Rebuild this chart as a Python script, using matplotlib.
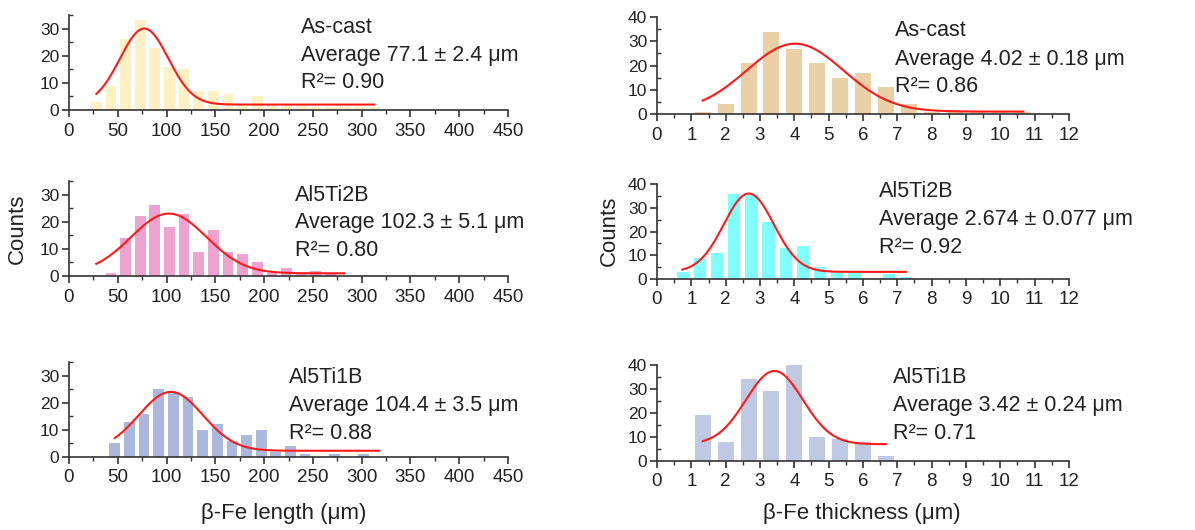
import numpy as np
import matplotlib.pyplot as plt
from matplotlib.ticker import MultipleLocator

plt.rcParams['font.family'] = ['Liberation Sans', 'DejaVu Sans']

# ---- length histograms (um) ----
len_cast_x = [28, 43, 58, 73, 88, 103, 118, 133, 148, 163, 178, 193, 208, 223, 238, 253, 268, 283, 298, 313]
len_cast_y = [3, 9, 26, 33, 23, 16, 15, 7, 7, 6, 2, 5, 2, 2, 2, 1, 1, 1, 1, 1]
len_ti2b_x = [43, 58, 73, 88, 103, 118, 133, 148, 163, 178, 193, 208, 223, 238, 253, 268]
len_ti2b_y = [1, 14, 22, 26, 18, 23, 9, 17, 9, 8, 5, 1, 3, 1, 2, 1]
len_ti1b_x = [47, 62, 77, 92, 107, 122, 137, 152, 167, 182, 197, 212, 227, 242, 257, 272, 287, 302]
len_ti1b_y = [5, 13, 16, 25, 24, 22, 10, 12, 6, 8, 10, 2, 4, 1, 0, 1, 0, 1]

# ---- thickness histograms (um) ----
thk_cast_x = [1.33, 2.0, 2.67, 3.33, 4.0, 4.67, 5.33, 6.0, 6.67, 7.33, 8.0, 8.67, 9.33, 10.0, 10.67]
thk_cast_y = [1, 4, 21, 34, 27, 21, 15, 17, 11, 4, 1, 1, 1, 1, 1]
thk_ti2b_x = [0.75, 1.25, 1.75, 2.25, 2.75, 3.25, 3.75, 4.25, 4.75, 5.25, 5.75, 6.25, 6.75, 7.25]
thk_ti2b_y = [3, 9, 11, 36, 36, 24, 13, 14, 5, 3, 3, 0, 2, 1]
thk_ti1b_x = [1.33, 2.0, 2.67, 3.33, 4.0, 4.67, 5.33, 6.0, 6.67]
thk_ti1b_y = [19, 8, 34, 29, 40, 10, 9, 8, 2]

# Gaussian fit parameters: (xc, amplitude, sigma, offset, x_start, x_end)
fit_len_cast = (77.1, 28, 24.8, 2.0, 28, 313)
fit_len_ti2b = (102.3, 22, 38.7, 1.0, 28, 282)
fit_len_ti1b = (104.4, 21.7, 32.8, 2.3, 47, 318)
fit_thk_cast = (4.02, 28, 1.41, 1.0, 1.33, 10.67)
fit_thk_ti2b = (2.674, 33, 0.73, 3.0, 0.74, 7.25)
fit_thk_ti1b = (3.42, 30.5, 0.83, 7.0, 1.33, 6.67)

labels_len = [["As-cast", "Average 77.1 ± 2.4 μm", "R²= 0.90"],
              ["Al5Ti2B", "Average 102.3 ± 5.1 μm", "R²= 0.80"],
              ["Al5Ti1B", "Average 104.4 ± 3.5 μm", "R²= 0.88"]]
labels_thk = [["As-cast", "Average 4.02 ± 0.18 μm", "R²= 0.86"],
              ["Al5Ti2B", "Average 2.674 ± 0.077 μm", "R²= 0.92"],
              ["Al5Ti1B", "Average 3.42 ± 0.24 μm", "R²= 0.71"]]

W, H = 1195, 530
fig = plt.figure(figsize=(W / 100, H / 100), dpi=100)


def px_axes(left, top, right, bottom):
    return fig.add_axes([left / W, 1 - bottom / H, (right - left) / W, (bottom - top) / H])


def style(ax, xmax, xmaj, ymax, ymaj):
    ax.set_xlim(0, xmax)
    ax.set_ylim(0, ymax)
    ax.xaxis.set_major_locator(MultipleLocator(xmaj))
    ax.xaxis.set_minor_locator(MultipleLocator(xmaj / 2))
    ax.yaxis.set_major_locator(MultipleLocator(ymaj))
    ax.yaxis.set_minor_locator(MultipleLocator(ymaj / 2))
    for s in ["top", "right"]:
        ax.spines[s].set_visible(False)
    for s in ["left", "bottom"]:
        ax.spines[s].set_linewidth(1.2)
        ax.spines[s].set_color("#333333")
    ax.tick_params(which="major", direction="out", length=5, width=1.2,
                   colors="#333333", labelcolor="#222222", pad=3)
    ax.tick_params(axis="x", which="major", labelsize=13.5, pad=4)
    ax.tick_params(axis="y", which="major", labelsize=12.5, pad=2)
    ax.tick_params(axis="x", which="minor", direction="out", length=3, width=1.0, colors="#333333")
    ax.tick_params(axis="y", which="minor", direction="in", length=3, width=1.0, colors="#333333")


def draw(ax, x, y, width, color, fit):
    ax.bar(x, y, width=width, color=color, zorder=2)
    xc, a, s, y0, x0, x1 = fit
    xs = np.linspace(x0, x1, 300)
    ax.plot(xs, y0 + a * np.exp(-(xs - xc) ** 2 / (2 * s ** 2)), color="#ff1a1a", lw=1.5, zorder=3)


# left column (length)
ax1 = px_axes(69, 15, 508, 110)
ax2 = px_axes(69, 181, 508, 276)
ax3 = px_axes(69, 362, 508, 457)
draw(ax1, len_cast_x, len_cast_y, 11, "#fff1c4", fit_len_cast)
draw(ax2, len_ti2b_x, len_ti2b_y, 11, "#eea2d0", fit_len_ti2b)
draw(ax3, len_ti1b_x, len_ti1b_y, 11, "#a9b8dc", fit_len_ti1b)
for ax in (ax1, ax2, ax3):
    style(ax, 450, 50, 35, 10)

# right column (thickness)
ax4 = px_axes(657, 17, 1069, 114)
ax5 = px_axes(657, 184, 1069, 279)
ax6 = px_axes(657, 365, 1069, 461)
draw(ax4, thk_cast_x, thk_cast_y, 0.47, "#e9d0a6", fit_thk_cast)
draw(ax5, thk_ti2b_x, thk_ti2b_y, 0.36, "#80ffff", fit_thk_ti2b)
draw(ax6, thk_ti1b_x, thk_ti1b_y, 0.47, "#bfc9e3", fit_thk_ti1b)
for ax in (ax4, ax5, ax6):
    style(ax, 12, 1, 40, 10)

# annotation blocks: (x px, baselines px)
text_pos = [(301, [33, 61, 88]), (295, [201, 228, 256]), (289, [383, 411, 439]),
            (895, [36, 65, 92]), (879, [197, 225, 253]), (893, [383, 411, 439])]
for (tx, bases), lines in zip(text_pos, labels_len + labels_thk):
    for b, line in zip(bases, lines):
        fig.text(tx / W, 1 - b / H, line, fontsize=15.5, color="#222222", va="baseline", ha="left")

fig.text(17 / W, 1 - 229 / H, "Counts", fontsize=16, rotation=90, va="center", ha="center", color="#222222")
fig.text(609 / W, 1 - 231 / H, "Counts", fontsize=16, rotation=90, va="center", ha="center", color="#222222")
fig.text(284 / W, 1 - 514 / H, "β-Fe length (μm)", fontsize=16, va="center", ha="center", color="#222222")
fig.text(862 / W, 1 - 514 / H, "β-Fe thickness (μm)", fontsize=16, va="center", ha="center", color="#222222")

fig.savefig("out.png", dpi=100)
